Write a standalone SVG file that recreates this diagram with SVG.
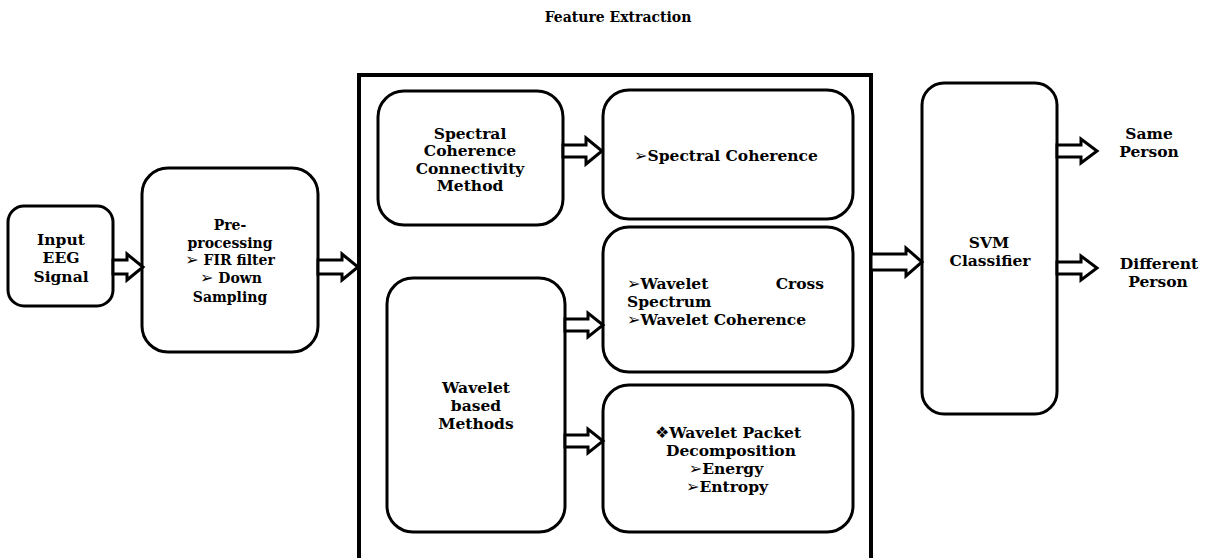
<svg xmlns="http://www.w3.org/2000/svg" width="1205" height="558" viewBox="0 0 1205 558">
<style>
.box{fill:#fff;stroke:#000;stroke-width:3}
.frame{fill:none;stroke:#000;stroke-width:4}
.arr{fill:#fff;stroke:#000;stroke-width:3;stroke-linejoin:miter}
text{font-family:"DejaVu Serif","Liberation Serif",serif;font-weight:bold;font-size:15.5px;fill:#000}
.c{text-anchor:middle}
.sym{font-family:"DejaVu Sans","Noto Sans",sans-serif;font-size:16px}
</style>
<rect width="1205" height="558" fill="#fff"/>
<text id="title" x="618" y="22" class="c" style="font-size:14px">Feature Extraction</text>
<g id="feature-extraction-frame">
<rect class="frame" x="359" y="75" width="512" height="500"/>
</g>
<g id="input">
<rect class="box" x="8" y="206" width="105" height="100" rx="16"/>
<text class="c" x="61" y="245">Input</text>
<text class="c" x="61" y="263">EEG</text>
<text class="c" x="61" y="282">Signal</text>
</g>
<g id="preprocessing">
<rect class="box" x="142" y="168" width="176" height="184" rx="26"/>
<text class="c" x="230" y="230" style="font-size:14px">Pre-</text>
<text class="c" x="230" y="248" style="font-size:14px">processing</text>
<text class="c" x="230" y="265" style="font-size:14px"><tspan class="sym">➢</tspan> FIR filter</text>
<text class="c" x="231" y="283" style="font-size:14px"><tspan class="sym">➢</tspan> Down</text>
<text class="c" x="230" y="302" style="font-size:14px">Sampling</text>
</g>
<g id="spectral-method">
<rect class="box" x="378" y="91" width="185" height="134" rx="26"/>
<text class="c" x="470" y="138.5">Spectral</text>
<text class="c" x="470" y="156">Coherence</text>
<text class="c" x="470" y="174">Connectivity</text>
<text class="c" x="470" y="191">Method</text>
</g>
<g id="spectral-coherence">
<rect class="box" x="603" y="90" width="250" height="129" rx="26"/>
<text class="c" x="726" y="160.5"><tspan class="sym">➢</tspan>Spectral Coherence</text>
</g>
<g id="wavelet-methods">
<rect class="box" x="387" y="278" width="178" height="254" rx="26"/>
<text class="c" x="476" y="392.5">Wavelet</text>
<text class="c" x="476" y="410.5">based</text>
<text class="c" x="476" y="428.5">Methods</text>
</g>
<g id="wavelet-cross">
<rect class="box" x="603" y="227" width="250" height="145" rx="26"/>
<text x="627" y="288.5"><tspan class="sym">➢</tspan>Wavelet</text>
<text x="824" y="288.5" style="text-anchor:end">Cross</text>
<text x="627" y="307">Spectrum</text>
<text x="627" y="325"><tspan class="sym">➢</tspan>Wavelet Coherence</text>
</g>
<g id="wavelet-packet">
<rect class="box" x="603" y="385" width="250" height="147" rx="26"/>
<text class="c" x="728" y="437.5"><tspan class="sym">❖</tspan>Wavelet Packet</text>
<text class="c" x="731" y="455.5">Decomposition</text>
<text class="c" x="726" y="473.5"><tspan class="sym">➢</tspan>Energy</text>
<text class="c" x="727" y="491.5"><tspan class="sym">➢</tspan>Entropy</text>
</g>
<g id="svm">
<rect class="box" x="922" y="83" width="135" height="331" rx="22"/>
<text class="c" x="989" y="247.5">SVM</text>
<text class="c" x="990" y="265.5">Classifier</text>
</g>
<g id="same-person">
<text class="c" x="1149" y="138.5">Same</text>
<text class="c" x="1149" y="157">Person</text>
</g>
<g id="different-person">
<text class="c" x="1159" y="268.5">Different</text>
<text class="c" x="1158" y="286.5">Person</text>
</g>
<g id="connectors">
<path class="arr" d="M113,260 H127 V254 L143,267 L127,280 V274 H113 Z"/>
<path class="arr" d="M318,260 H342 V254 L358,267 L342,280 V274 H318 Z"/>
<path class="arr" d="M563,145 H586 V138 L602,151 L586,164 V157 H563 Z"/>
<path class="arr" d="M565,319 H588 V313 L603,325 L588,337 V331 H565 Z"/>
<path class="arr" d="M565,435 H588 V429 L603,441 L588,453 V447 H565 Z"/>
<path class="arr" d="M871,254 H906 V248 L922,262 L906,276 V270 H871 Z"/>
<path class="arr" d="M1057,145 H1081 V139 L1097,151 L1081,163 V157 H1057 Z"/>
<path class="arr" d="M1057,262 H1081 V256 L1097,268 L1081,280 V274 H1057 Z"/>
</g>
</svg>
